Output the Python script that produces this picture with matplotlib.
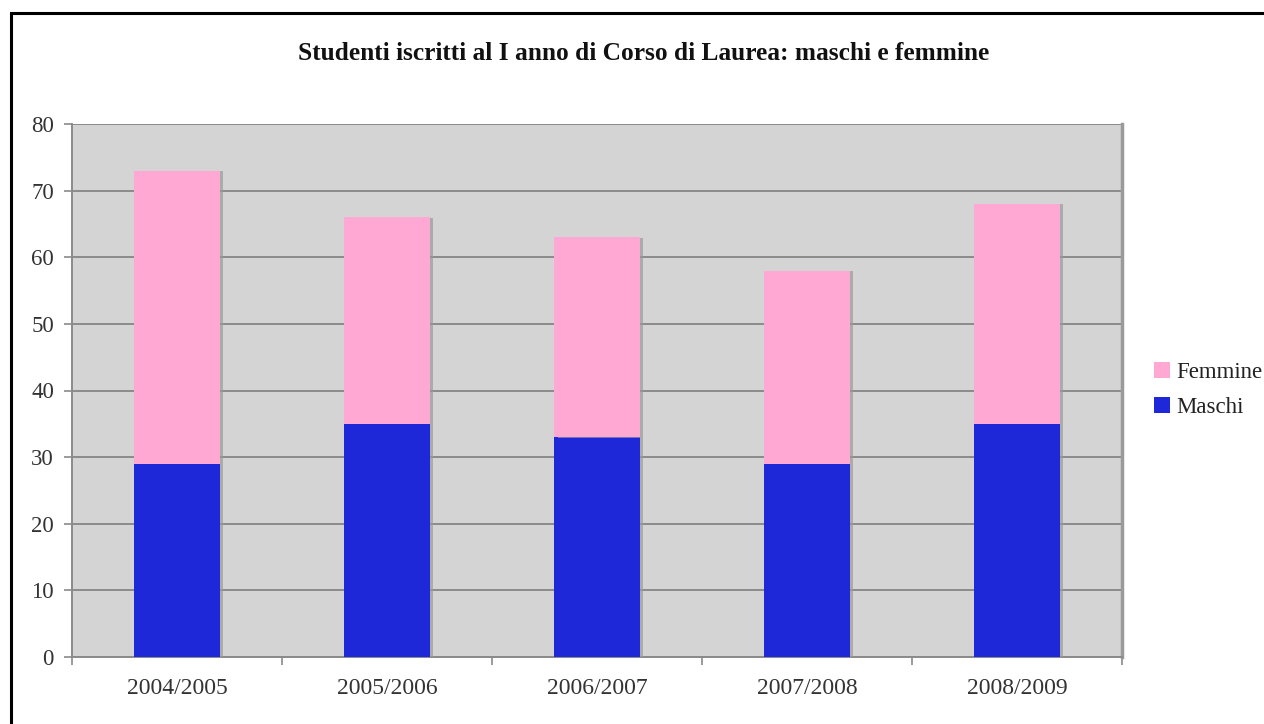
import matplotlib
matplotlib.use("Agg")
import matplotlib.pyplot as plt
import matplotlib.patheffects as pe
from matplotlib.patches import Rectangle, Patch

years = ["2004/2005", "2005/2006", "2006/2007", "2007/2008", "2008/2009"]
maschi = [29, 35, 33, 29, 35]
femmine = [44, 31, 30, 29, 33]  # totals 73, 66, 63, 58, 68

plt.rcParams['font.family'] = ['Liberation Serif', 'DejaVu Serif']

fig = plt.figure(figsize=(12.64, 7.24), dpi=100)
fig.patches.append(Rectangle((11/1264, -0.1), 1.2, 1 - 13/724 + 0.1,
                             transform=fig.transFigure, fill=False,
                             edgecolor='black', linewidth=2.2))

ax = fig.add_axes([72/1264, 1 - 657/724, (1122 - 72)/1264, (657 - 124)/724])
ax.set_facecolor('#d4d4d4')

pink = '#ffa8d4'
blue = '#1f28d8'
x = range(len(years))
shadow = [pe.SimplePatchShadow(offset=(2.5, -0.3), shadow_rgbFace='#9a9a9a', alpha=0.7), pe.Normal()]
b1 = ax.bar(x, maschi, width=0.405, color=blue, zorder=3)
b2 = ax.bar(x, femmine, width=0.405, bottom=maschi, color=pink, zorder=3)
for b in list(b1) + list(b2):
    b.set_path_effects(shadow)

ax.set_xlim(-0.5, len(years) - 0.5)
ax.set_ylim(0, 80)
ax.set_yticks(range(0, 81, 10))
ax.yaxis.grid(True, color='#8a8a8a', linewidth=1.4, zorder=1)
ax.set_axisbelow(True)

ax.set_xticks(list(x))
ax.set_xticklabels(years)
ax.set_xticks([i + 0.5 for i in range(-1, len(years))], minor=True)
ax.tick_params(axis='x', which='major', length=0, pad=15, labelsize=17, labelcolor='#333333')
ax.tick_params(axis='x', which='minor', length=6, color='#8a8a8a', width=1.2)
ax.tick_params(axis='y', length=6, color='#8a8a8a', width=1.2, pad=7, labelsize=16.5, labelcolor='#333333')

for s in ['left', 'bottom']:
    ax.spines[s].set_color('#8a8a8a')
    ax.spines[s].set_linewidth(1.4)
ax.spines['right'].set_color('#9a9a9a')
ax.spines['right'].set_linewidth(2.5)
ax.spines['top'].set_visible(False)

fig.text(644/1264, 1 - 53/724, "Studenti iscritti al I anno di Corso di Laurea: maschi e femmine",
         ha='center', va='center', fontsize=18.3, fontweight='bold', color='#111111')

handles = [Patch(facecolor=pink), Patch(facecolor=blue)]
leg = fig.legend(handles, ['Femmine', 'Maschi'], loc='center left',
                 bbox_to_anchor=(1133/1264, 1 - 390/724), frameon=False,
                 fontsize=16.5, handlelength=0.7, handleheight=0.7,
                 handletextpad=0.3, labelspacing=0.6)
for t in leg.get_texts():
    t.set_color('#222222')

fig.savefig('out.png', dpi=100)
